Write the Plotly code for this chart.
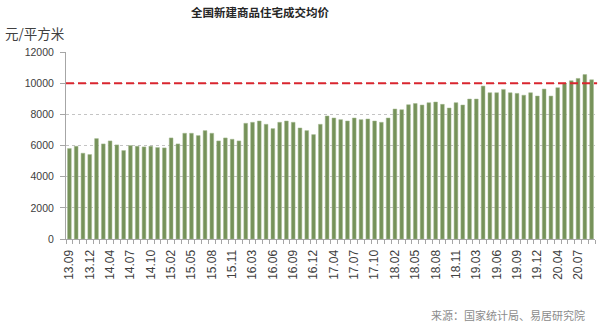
import plotly.graph_objects as go

# Monthly periods (January is merged into February in the statistics)
months = [
    "13.09", "13.10", "13.11", "13.12",
    "14.02", "14.03", "14.04", "14.05", "14.06", "14.07", "14.08", "14.09", "14.10", "14.11", "14.12",
    "15.02", "15.03", "15.04", "15.05", "15.06", "15.07", "15.08", "15.09", "15.10", "15.11", "15.12",
    "16.02", "16.03", "16.04", "16.05", "16.06", "16.07", "16.08", "16.09", "16.10", "16.11", "16.12",
    "17.02", "17.03", "17.04", "17.05", "17.06", "17.07", "17.08", "17.09", "17.10", "17.11", "17.12",
    "18.02", "18.03", "18.04", "18.05", "18.06", "18.07", "18.08", "18.09", "18.10", "18.11", "18.12",
    "19.02", "19.03", "19.04", "19.05", "19.06", "19.07", "19.08", "19.09", "19.10", "19.11", "19.12",
    "20.02", "20.03", "20.04", "20.05", "20.06", "20.07", "20.08", "20.09",
]

# Average transaction price of new commodity housing, yuan per square metre
avg_price = [
    5805, 5952, 5504, 5419,
    6443, 6101, 6293, 6037, 5675, 5995, 5952, 5909, 5952, 5867, 5845,
    6485, 6101, 6784, 6784, 6635, 6955, 6784, 6293, 6485, 6400, 6293,
    7424, 7488, 7573, 7360, 7083, 7488, 7573, 7488, 7125, 6955, 6699,
    7360, 7893, 7765, 7659, 7573, 7765, 7659, 7701, 7573, 7488, 7765,
    8341, 8299, 8619, 8695, 8597, 8747, 8789, 8640, 8405, 8747, 8597,
    8981, 8981, 9813, 9387, 9387, 9600, 9387, 9344, 9226, 9387, 9173,
    9621, 9173, 9707, 10010, 10155, 10304, 10550, 10219,
]

# Every third period carries a label on the category axis
tick_labels = [m if i % 3 == 0 else "" for i, m in enumerate(months)]

reference_level = 10000
y_ticks = [0, 2000, 4000, 6000, 8000, 10000, 12000]

fig = go.Figure()
fig.add_trace(go.Bar(
    x=months,
    y=avg_price,
    width=0.55,
    marker=dict(color="#76925a", line=dict(color="#a3b98e", width=0.5)),
    showlegend=False,
))

# 10000 yuan reference line across the plot
fig.add_shape(
    type="line", xref="paper", yref="y",
    x0=0, x1=1.004, y0=reference_level, y1=reference_level,
    line=dict(color="#d9262f", width=2, dash="8px,4px"),
    layer="above",
)

fig.update_layout(
    width=600, height=328,
    margin=dict(l=66, r=5, t=52, b=89),
    paper_bgcolor="white",
    plot_bgcolor="white",
    font=dict(family="Liberation Sans, Arial, sans-serif", color="#404040"),
    title=dict(
        text="<b>全国新建商品住宅成交均价</b>",
        x=260 / 600, xanchor="center", y=1 - 13 / 328, yanchor="middle",
        font=dict(family="Noto Sans CJK SC", size=11.5, color="#262626"),
    ),
    annotations=[
        dict(text="元/平方米", xref="paper", yref="paper",
             x=-66 / 529 + 3 / 529, y=1 + 19 / 187, xanchor="left", yanchor="middle",
             showarrow=False,
             font=dict(family="Noto Sans CJK SC", size=13.5, color="#404040")),
        dict(text="来源：国家统计局、易居研究院", xref="paper", yref="paper",
             x=1 - 8 / 529, y=-76 / 187, xanchor="right", yanchor="middle",
             showarrow=False,
             font=dict(family="Noto Sans CJK SC", size=11, color="#8c8c8c")),
    ],
)

fig.update_xaxes(
    type="category",
    tickmode="array",
    tickvals=months,
    ticktext=tick_labels,
    tickangle=-90,
    tickson="boundaries",
    ticks="outside",
    ticklen=4,
    tickcolor="#a6a6a6",
    tickfont=dict(size=12, color="#404040"),
    ticklabelstandoff=5,
    showline=True,
    linecolor="#a6a6a6",
    linewidth=1,
    showgrid=False,
    range=[-0.5, len(months) - 0.5],
)

fig.update_yaxes(
    range=[0, 12000],
    tickmode="array",
    tickvals=y_ticks,
    tickformat="d",
    ticks="outside",
    ticklen=5,
    tickcolor="#a6a6a6",
    tickfont=dict(size=10.5, color="#404040"),
    ticklabelstandoff=4,
    showline=True,
    linecolor="#a6a6a6",
    linewidth=1,
    showgrid=True,
    gridcolor="#c4c4c4",
    griddash="3px,3px",
    gridwidth=1,
    zeroline=False,
)

fig.write_html("out.html")
